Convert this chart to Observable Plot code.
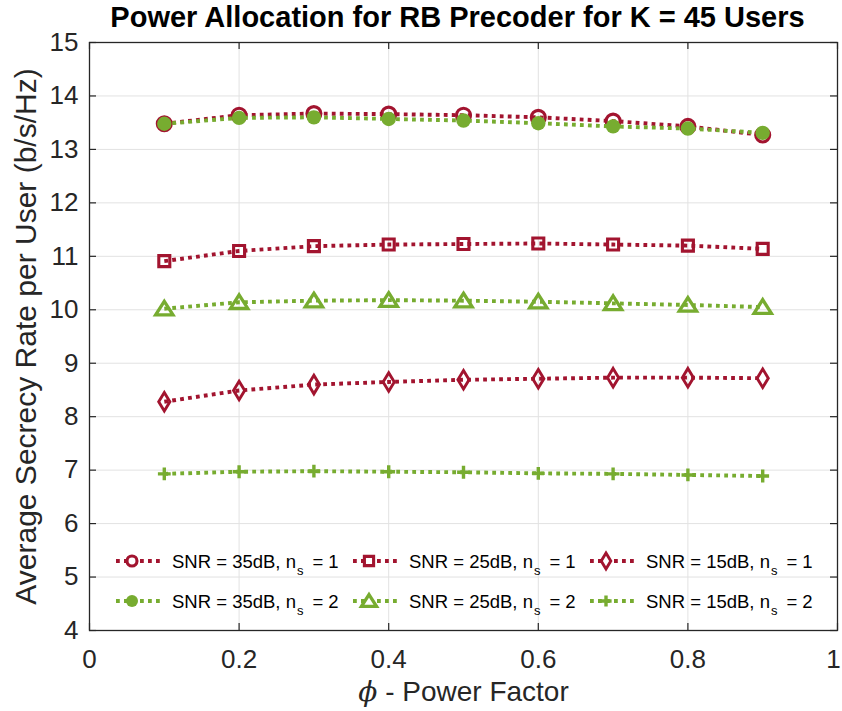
<!DOCTYPE html>
<html><head><meta charset="utf-8">
<script src="https://cdn.jsdelivr.net/npm/d3@7"></script>
<script src="https://cdn.jsdelivr.net/npm/@observablehq/plot@0.6"></script>
<style>body{margin:0;background:#fff} #chart svg{display:block}</style>
</head><body><div id="chart"></div>
<script>
// ---- data ----
const phi = [0.1, 0.2, 0.3, 0.4, 0.5, 0.6, 0.7, 0.8, 0.9];
const snr35_ns1 = [13.48, 13.64, 13.67, 13.66, 13.64, 13.60, 13.53, 13.43, 13.27];
const snr25_ns1 = [10.91, 11.10, 11.19, 11.22, 11.23, 11.24, 11.22, 11.20, 11.14];
const snr15_ns1 = [8.28, 8.49, 8.60, 8.65, 8.69, 8.71, 8.73, 8.73, 8.72];
const snr35_ns2 = [13.48, 13.59, 13.60, 13.57, 13.54, 13.49, 13.43, 13.39, 13.31];
const snr25_ns2 = [10.02, 10.14, 10.17, 10.18, 10.17, 10.15, 10.12, 10.09, 10.05];
const snr15_ns2 = [6.93, 6.97, 6.98, 6.97, 6.96, 6.94, 6.93, 6.91, 6.89];
const xTicks = [0, 0.2, 0.4, 0.6, 0.8, 1];
const xTickLabels = ["0", "0.2", "0.4", "0.6", "0.8", "1"];
const yTicks = [4, 5, 6, 7, 8, 9, 10, 11, 12, 13, 14, 15];
const legendLabels = ["SNR = 35dB, n", "SNR = 25dB, n", "SNR = 15dB, n", "SNR = 35dB, n", "SNR = 25dB, n", "SNR = 15dB, n"];
const legendTails = ["= 1", "= 1", "= 1", "= 2", "= 2", "= 2"];
const titleText = "Power Allocation for RB Precoder for K = 45 Users";
const yLabel = "Average Secrecy Rate per User (b/s/Hz)";
const xLabel = "ϕ - Power Factor";

const RED = "#A2142F", GREEN = "#77AC30", INK = "#262626";

// ---- marker shapes (MATLAB-like) ----
function sym(fn){ return {draw(ctx, size){ const r = Math.sqrt(size/Math.PI); fn(ctx, r); }}; }
const symCircle = sym((c,r)=>{ c.moveTo(r,0); c.arc(0,0,r,0,2*Math.PI); c.closePath(); });
const symSquare = sym((c,r)=>{ c.moveTo(-r,-r); c.lineTo(r,-r); c.lineTo(r,r); c.lineTo(-r,r); c.closePath(); });
const symDiamond = sym((c,r)=>{ c.moveTo(0,-r*1.65); c.lineTo(r,0); c.lineTo(0,r*1.65); c.lineTo(-r,0); c.closePath(); });
const symTriangle = sym((c,r)=>{ c.moveTo(0,-r*1.2); c.lineTo(r*1.4,r); c.lineTo(-r*1.4,r); c.closePath(); });
const symPlus = sym((c,r)=>{ c.moveTo(-r,0); c.lineTo(r,0); c.moveTo(0,-r); c.lineTo(0,r); });

const series = [
  {values: snr35_ns1, color: RED,   symbol: symCircle,   r: 7.0, fill: "none", sw: 3.1, lr: 5.0},
  {values: snr25_ns1, color: RED,   symbol: symSquare,   r: 5.5, fill: "none", sw: 3.1, lr: 4.6},
  {values: snr15_ns1, color: RED,   symbol: symDiamond,  r: 5.6, fill: "none", sw: 2.9, lr: 4.8},
  {values: snr35_ns2, color: GREEN, symbol: symCircle,   r: 7.2, fill: GREEN,  sw: 0,   lr: 6.0},
  {values: snr25_ns2, color: GREEN, symbol: symTriangle, r: 6.2, fill: "none", sw: 3.3, lr: 5.4},
  {values: snr15_ns2, color: GREEN, symbol: symPlus,     r: 6.4, fill: "none", sw: 3.4, lr: 5.6}
];

const W = 842, H = 711, mL = 89, mR = 5, mT = 42, mB = 81;
const fw = W - mL - mR, fh = H - mT - mB;
const DASH = "3.8,4.2";
const fmtX = d => xTickLabels[xTicks.indexOf(d)];

const marks = [
  Plot.gridX(xTicks, {stroke: "#e2e2e2", strokeOpacity: 1, strokeWidth: 1}),
  Plot.gridY(yTicks, {stroke: "#e2e2e2", strokeOpacity: 1, strokeWidth: 1}),
  Plot.axisX(xTicks.slice(0, -1), {tickSize: 0, tickPadding: 19, fontSize: 26, fill: INK, tickFormat: fmtX, label: null}),
  Plot.axisX(xTicks.slice(-1), {tickSize: 0, tickPadding: 19, fontSize: 26, fill: INK, tickFormat: fmtX, label: null, dx: -4}),
  Plot.axisY(yTicks, {tickSize: 0, tickPadding: 11, fontSize: 26, fill: INK, tickFormat: d => String(d), label: null}),
  Plot.ruleX(xTicks, {x: d => d, insetTop: fh - 7, stroke: INK, strokeWidth: 1.2}),
  Plot.ruleX(xTicks, {x: d => d, insetBottom: fh - 7, stroke: INK, strokeWidth: 1.2}),
  Plot.ruleY(yTicks, {y: d => d, insetRight: fw - 7, stroke: INK, strokeWidth: 1.2}),
  Plot.ruleY(yTicks, {y: d => d, insetLeft: fw - 7, stroke: INK, strokeWidth: 1.2}),
  Plot.frame({stroke: INK, strokeWidth: 1.3})
];
for (const s of series) {
  const data = phi.map((p, i) => ({x: p, y: s.values[i]}));
  marks.push(Plot.line(data, {x: "x", y: "y", stroke: s.color, strokeWidth: 3.9, strokeDasharray: DASH, strokeLinecap: "butt", strokeLinejoin: "miter"}));
  marks.push(Plot.dot(data, {x: "x", y: "y", symbol: s.symbol, r: s.r, fill: s.fill, stroke: s.sw ? s.color : "none", strokeWidth: s.sw}));
}
marks.push(Plot.text([titleText], {text: d => d, frameAnchor: "top", textAnchor: "middle", lineAnchor: "bottom", dy: -16, dx: -6, fontSize: 29, fontWeight: "bold", fill: "black"}));
marks.push(Plot.text([yLabel], {text: d => d, frameAnchor: "left", textAnchor: "middle", lineAnchor: "bottom", rotate: -90, dx: -54, fontSize: 30, fill: INK}));
marks.push(Plot.text([xLabel], {text: d => d, frameAnchor: "bottom", textAnchor: "middle", lineAnchor: "bottom", dy: 70, fontSize: 28, fill: INK}));

const chart = Plot.plot({
  width: W, height: H,
  marginLeft: mL, marginRight: mR, marginTop: mT, marginBottom: mB,
  x: {domain: [0, 1]},
  y: {domain: [4, 15]},
  style: {fontFamily: "'Liberation Sans', Arial, sans-serif", background: "white", color: INK, overflow: "visible"},
  marks
});
document.getElementById("chart").appendChild(chart);

// italic phi in x label
const svg = d3.select(chart);
svg.selectAll("text").each(function() {
  if (this.textContent === xLabel) {
    const t = d3.select(this);
    t.text(null);
    t.append("tspan").attr("font-family", "'DejaVu Serif', serif").attr("font-style", "italic").text("ϕ");
    t.append("tspan").text(" - Power Factor");
  }
});

// legend (2 rows x 3 columns, inside the axes)
const lg = svg.append("g").attr("font-family", "'Liberation Sans', Arial, sans-serif").attr("font-size", 18.5).attr("fill", "black").attr("text-anchor", "start");
const colX = [116, 353, 590];
const rowY = [561, 601];
series.forEach((s, i) => {
  const cx = colX[i % 3], cy = rowY[Math.floor(i / 3)];
  lg.append("line").attr("x1", cx).attr("x2", cx + 45).attr("y1", cy).attr("y2", cy)
    .attr("stroke", s.color).attr("stroke-width", 3.9).attr("stroke-dasharray", DASH);
  lg.append("path").attr("transform", `translate(${cx + 16},${cy})`)
    .attr("d", d3.symbol(s.symbol, s.lr * s.lr * Math.PI)())
    .attr("fill", s.fill === "none" ? "white" : s.fill)
    .attr("stroke", s.sw ? s.color : "none").attr("stroke-width", s.sw);
  const t = lg.append("text").attr("x", cx + 56).attr("y", cy + 6.5).attr("text-anchor", "start");
  t.append("tspan").text(legendLabels[i]);
  t.append("tspan").attr("font-size", 13).attr("dy", 7).attr("dx", 1).text("s");
  t.append("tspan").attr("dy", -7).attr("dx", 9).text(legendTails[i]);
});
</script>
</body></html>
